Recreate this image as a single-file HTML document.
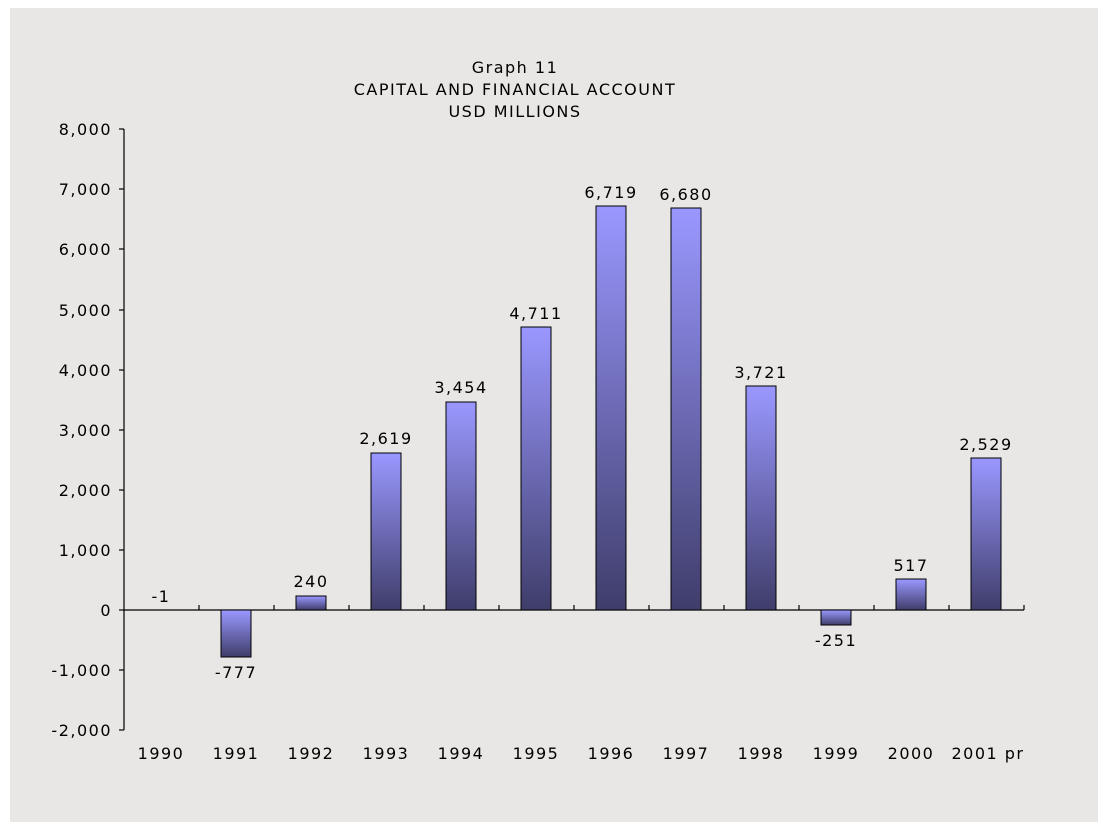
<!DOCTYPE html>
<html><head><style>
html,body{margin:0;padding:0;background:#fff;}
svg{display:block;}
text{font-family:"DejaVu Sans","Liberation Sans",sans-serif;font-size:16px;letter-spacing:1.5px;fill:#000;}
</style></head><body>
<svg width="1117" height="833" viewBox="0 0 1117 833" xmlns="http://www.w3.org/2000/svg">
<defs>
<linearGradient id="g" x1="0" y1="0" x2="0" y2="1">
<stop offset="0" stop-color="#9a98ff"/>
<stop offset="1" stop-color="#3f3d6a"/>
</linearGradient>
</defs>
<rect x="10" y="8" width="1088" height="814" fill="#e9e7e5"/>
<text x="515" y="73" text-anchor="middle">Graph 11</text>
<text x="515" y="95" text-anchor="middle">CAPITAL AND FINANCIAL ACCOUNT</text>
<text x="515" y="117" text-anchor="middle">USD MILLIONS</text>
<g stroke="#000" stroke-width="1.2">
<line x1="124" y1="129" x2="124" y2="730"/>
<line x1="124" y1="610" x2="1024" y2="610"/>
<line x1="119" y1="129" x2="124" y2="129"/>
<line x1="119" y1="189" x2="124" y2="189"/>
<line x1="119" y1="249" x2="124" y2="249"/>
<line x1="119" y1="310" x2="124" y2="310"/>
<line x1="119" y1="370" x2="124" y2="370"/>
<line x1="119" y1="430" x2="124" y2="430"/>
<line x1="119" y1="490" x2="124" y2="490"/>
<line x1="119" y1="550" x2="124" y2="550"/>
<line x1="119" y1="610" x2="124" y2="610"/>
<line x1="119" y1="670" x2="124" y2="670"/>
<line x1="119" y1="730" x2="124" y2="730"/>
<line x1="199" y1="605" x2="199" y2="610"/><line x1="274" y1="605" x2="274" y2="610"/>
<line x1="349" y1="605" x2="349" y2="610"/><line x1="424" y1="605" x2="424" y2="610"/>
<line x1="499" y1="605" x2="499" y2="610"/><line x1="574" y1="605" x2="574" y2="610"/>
<line x1="649" y1="605" x2="649" y2="610"/><line x1="724" y1="605" x2="724" y2="610"/>
<line x1="799" y1="605" x2="799" y2="610"/><line x1="874" y1="605" x2="874" y2="610"/>
<line x1="949" y1="605" x2="949" y2="610"/><line x1="1024" y1="605" x2="1024" y2="610"/>
</g>
<g text-anchor="end">
<text x="112" y="135">8,000</text><text x="112" y="195">7,000</text>
<text x="112" y="255">6,000</text><text x="112" y="316">5,000</text>
<text x="112" y="376">4,000</text><text x="112" y="436">3,000</text>
<text x="112" y="496">2,000</text><text x="112" y="556">1,000</text>
<text x="112" y="616">0</text><text x="112" y="676">-1,000</text>
<text x="112" y="736">-2,000</text>
</g>
<g stroke="#000" stroke-width="1" fill="url(#g)">
<rect x="221" y="610" width="30" height="47"/>
<rect x="296" y="596" width="30" height="14"/>
<rect x="371" y="453" width="30" height="157"/>
<rect x="446" y="402" width="30" height="208"/>
<rect x="521" y="327" width="30" height="283"/>
<rect x="596" y="206" width="30" height="404"/>
<rect x="671" y="208" width="30" height="402"/>
<rect x="746" y="386" width="30" height="224"/>
<rect x="821" y="610" width="30" height="15"/>
<rect x="896" y="579" width="30" height="31"/>
<rect x="971" y="458" width="30" height="152"/>
</g>
<g text-anchor="middle">
<text x="161" y="602">-1</text>
<text x="236" y="678">-777</text>
<text x="311" y="587">240</text>
<text x="386" y="444">2,619</text>
<text x="461" y="393">3,454</text>
<text x="536" y="319">4,711</text>
<text x="611" y="198">6,719</text>
<text x="686" y="200">6,680</text>
<text x="761" y="378">3,721</text>
<text x="836" y="646">-251</text>
<text x="911" y="571">517</text>
<text x="986" y="450">2,529</text>
<text x="161" y="759">1990</text><text x="236" y="759">1991</text>
<text x="311" y="759">1992</text><text x="386" y="759">1993</text>
<text x="461" y="759">1994</text><text x="536" y="759">1995</text>
<text x="611" y="759">1996</text><text x="686" y="759">1997</text>
<text x="761" y="759">1998</text><text x="836" y="759">1999</text>
<text x="911" y="759">2000</text><text x="988" y="759">2001 pr</text>
</g>
</svg>
</body></html>
